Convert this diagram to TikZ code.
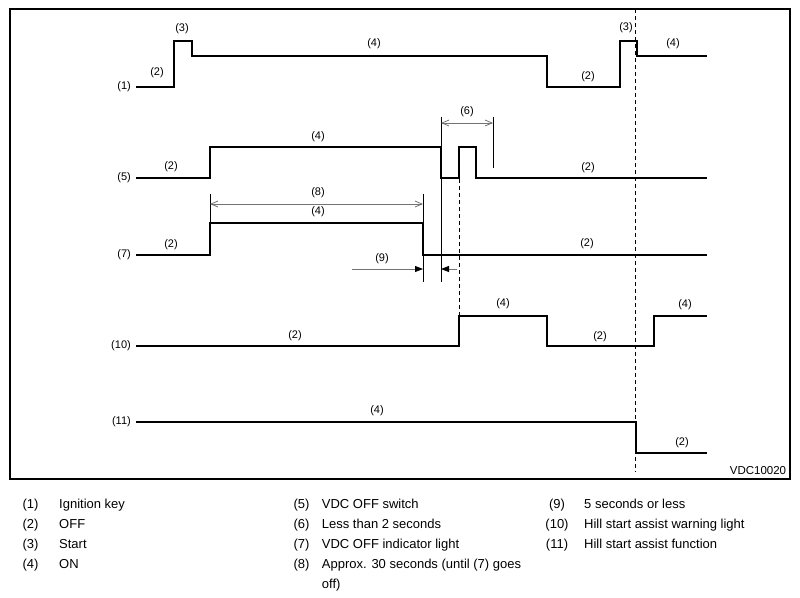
\documentclass[tikz,border=0pt]{standalone}
\usepackage{fontspec}
\setmainfont{Liberation Sans}
\usetikzlibrary{arrows.meta}
\tikzset{
  sig/.style={line width=2.2pt, line join=miter, line cap=butt},
  extline/.style={line width=0.8pt, draw=black},
  dimline/.style={line width=0.8pt, draw=black!55},
  openarr/.style={dimline, {Straight Barb[length=7pt,width=6pt]}-{Straight Barb[length=7pt,width=6pt]}},
  fillarr/.style={dimline, -{Triangle[length=8pt,width=6pt,color=black]}},
  vdash/.style={line width=0.9pt, dash pattern=on 4pt off 3pt},
  lbl/.style={inner sep=0pt, font=\fontsize{11}{13}\selectfont},
  sname/.style={lbl, anchor=east},
  legt/.style={inner sep=0pt, anchor=base west, font=\fontsize{13}{16}\selectfont},
  legn/.style={inner sep=0pt, anchor=base, font=\fontsize{13}{16}\selectfont},
}
\begin{document}
\begin{tikzpicture}[x=1pt,y=-1pt]
\useasboundingbox (0,0) rectangle (800,597);
% frame
\draw[line width=1.2pt] (10,9) rectangle (790,479);

% dashed vertical lines
\draw[vdash] (635.5,9) -- (635.5,472);
\draw[vdash] (459,179) -- (459,316);

% signal (1) ignition key
\draw[sig] (136,87) -| (174,41) -| (192,56) -| (547,87) -| (620,41) -| (637,56) -- (707,56);
% signal (5) VDC OFF switch
\draw[sig] (136,178) -| (210,147) -| (441,178) -| (459,147) -| (476,178) -- (707,178);
% signal (7) VDC OFF indicator light
\draw[sig] (136,255) -| (210,223) -| (423,255) -- (707,255);
% signal (10) hill start assist warning light
\draw[sig] (136,346) -| (459,316) -| (547,346) -| (654,316) -- (707,316);
% signal (11) hill start assist function
\draw[sig] (136,422) -| (636,453) -- (707,453);

% extension lines
\draw[extline] (441,117) -- (441,282);
\draw[extline] (493,117) -- (493,168);
\draw[extline] (210,194) -- (210,223);
\draw[extline] (423,194) -- (423,282);

% dimension arrows
\coordinate (d6a) at (441,123);
\coordinate (d6b) at (493,123);
\draw[openarr] (d6a) -- (d6b);
\coordinate (d8a) at (210,204);
\coordinate (d8b) at (423,204);
\draw[openarr] (d8a) -- (d8b);
\coordinate (d9a) at (352,269);
\coordinate (d9b) at (423,269);
\coordinate (d9c) at (457,269);
\coordinate (d9d) at (441,269);
\draw[fillarr] (d9a) -- (d9b);
\draw[fillarr] (d9c) -- (d9d);

% signal names
\node[sname] (n1) at (131,87) {(1)};
\node[sname] (n5) at (131,178) {(5)};
\node[sname] (n7) at (131,255) {(7)};
\node[sname] (n10) at (131,346) {(10)};
\node[sname] (n11) at (131,422) {(11)};

% state labels, signal 1
\node[lbl] (a1) at (157,73) {(2)};
\node[lbl] (a2) at (182,29) {(3)};
\node[lbl] (a3) at (374,44) {(4)};
\node[lbl] (a4) at (588,77) {(2)};
\node[lbl] (a5) at (626,28) {(3)};
\node[lbl] (a6) at (673,44) {(4)};
% signal 5
\node[lbl] (b1) at (171,167) {(2)};
\node[lbl] (b2) at (318,137) {(4)};
\node[lbl] (b3) at (588,168) {(2)};
\node[lbl] (b4) at (467,112) {(6)};
% signal 7
\node[lbl] (c1) at (171,245) {(2)};
\node[lbl] (c2) at (318,193) {(8)};
\node[lbl] (c3) at (318,212) {(4)};
\node[lbl] (c4) at (587,244) {(2)};
\node[lbl] (c5) at (382,259) {(9)};
% signal 10
\node[lbl] (e1) at (295,336) {(2)};
\node[lbl] (e2) at (503,304) {(4)};
\node[lbl] (e3) at (600,337) {(2)};
\node[lbl] (e4) at (685,305) {(4)};
% signal 11
\node[lbl] (f1) at (377,411) {(4)};
\node[lbl] (f2) at (682,443) {(2)};

\node[inner sep=0pt, font=\fontsize{11.5}{13}\selectfont] (code) at (758,471) {VDC10020};

% legend
\node[legn] (l1n) at (30.5,508) {(1)};
\node[legt] (l1t) at (59,508) {Ignition key};
\node[legn] (l2n) at (30.5,528) {(2)};
\node[legt] (l2t) at (59,528) {OFF};
\node[legn] (l3n) at (30.5,548) {(3)};
\node[legt] (l3t) at (59,548) {Start};
\node[legn] (l4n) at (30.5,568) {(4)};
\node[legt] (l4t) at (59,568) {ON};

\node[legn] (l5n) at (301.5,508) {(5)};
\node[legt] (l5t) at (321.7,508) {VDC OFF switch};
\node[legn] (l6n) at (301.5,528) {(6)};
\node[legt] (l6t) at (321.7,528) {Less than 2 seconds};
\node[legn] (l7n) at (301.5,548) {(7)};
\node[legt] (l7t) at (321.7,548) {VDC OFF indicator light};
\node[legn] (l8n) at (301.5,568) {(8)};
\node[legt] (l8t) at (321.7,568) {Approx. 30 seconds (until (7) goes};
\node[legt] (l8u) at (321.7,588) {off)};

\node[legn] (l9n) at (557,508) {(9)};
\node[legt] (l9t) at (584,508) {5 seconds or less};
\node[legn] (l10n) at (557,528) {(10)};
\node[legt] (l10t) at (584,528) {Hill start assist warning light};
\node[legn] (l11n) at (557,548) {(11)};
\node[legt] (l11t) at (584,548) {Hill start assist function};
\end{tikzpicture}
\end{document}
